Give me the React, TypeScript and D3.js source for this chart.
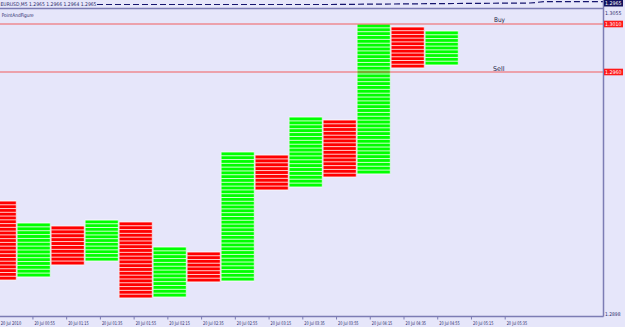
import React from 'react';
import * as d3 from 'd3';

const W = 625;
const H = 327;

// Point & Figure columns (X = rising/green, O = falling/red)
const colTypes = ['O', 'X', 'O', 'X', 'O', 'X', 'O', 'X', 'O', 'X', 'O', 'X', 'O', 'X'];
const colHigh = [1.28256, 1.28027, 1.27996, 1.28058, 1.28038, 1.27777, 1.27725, 1.28767, 1.28735, 1.29131, 1.29100, 1.30100, 1.30069, 1.30027];
const colLow = [1.27433, 1.27465, 1.27590, 1.27631, 1.27246, 1.27256, 1.27413, 1.27423, 1.28371, 1.28402, 1.28506, 1.28538, 1.29642, 1.29673];

const timeLabels = [
  '20 Jul 2010', '20 Jul 00:55', '20 Jul 01:15', '20 Jul 01:35', '20 Jul 01:55', '20 Jul 02:15',
  '20 Jul 02:35', '20 Jul 02:55', '20 Jul 03:15', '20 Jul 03:35', '20 Jul 03:55', '20 Jul 04:15',
  '20 Jul 04:35', '20 Jul 04:55', '20 Jul 05:15', '20 Jul 05:35',
];

const buyLevel = 1.3010;
const sellLevel = 1.2960;
const buyLabel = '1.3010';
const sellLabel = '1.2960';
const currentPriceLabel = '1.2965';
const topScaleLabel = '1.3055';
const bottomScaleLabel = '1.2898';
const headerText = 'EURUSD,M5  1.2965 1.2966 1.2964 1.2965';
const indicatorName = 'PointAndFigure';

const BG = '#e6e6fa';
const AXIS = '#7c7cb4';
const TEXT = '#2a2a6a';
const FONT = '"DejaVu Sans", Verdana, sans-serif';

export default function App() {
  const plotRight = 603;
  const plotBottom = 316;

  const y = d3.scaleLinear().domain([sellLevel, buyLevel]).range([72, 24]);
  const x = d3.scaleLinear().domain([0, colTypes.length]).range([-17.3, -17.3 + 34 * colTypes.length]);
  const tx = d3.scaleLinear().domain([0, timeLabels.length - 1]).range([-0.8, 505.2]);

  const headerLine = d3.line()([
    [97, 4.5], [330, 4.5], [440, 3.6], [530, 3], [545, 1.6], [plotRight, 1.6],
  ] as [number, number][]);

  return (
    <svg width={W} height={H} style={{ position: 'absolute', left: 0, top: 0, display: 'block' }}
      viewBox={`0 0 ${W} ${H}`}>
      <rect x={0} y={0} width={W} height={H} fill={BG} />

      {/* main window header */}
      <path d={headerLine ?? ''} fill="none" stroke="#15156e" strokeWidth={1.2} strokeDasharray="6 3" />
      <text x={0.5} y={6} fontSize={5} fontFamily={FONT} fill={TEXT} textLength={96} lengthAdjust="spacingAndGlyphs">{headerText}</text>
      <line x1={0} x2={plotRight} y1={8.5} y2={8.5} stroke={AXIS} strokeWidth={1.5} />

      {/* indicator window */}
      <text x={1.7} y={17} fontSize={5} fontFamily={FONT} fill={TEXT} textLength={32} lengthAdjust="spacingAndGlyphs">{indicatorName}</text>

      {/* P&F columns */}
      {colTypes.map((t, i) => {
        const x0 = x(i) + 0.5;
        const x1 = x(i + 1) - 0.5;
        const y0 = y(colHigh[i]);
        const y1 = y(colLow[i]);
        const n = Math.max(1, Math.round((y1 - y0) / 3.85));
        const step = (y1 - y0) / n;
        const fill = t === 'X' ? '#00ff00' : '#ff0000';
        return (
          <g key={i}>
            <rect x={x0} y={y0} width={x1 - x0} height={y1 - y0} fill={fill} />
            {d3.range(n + 1).map((k) => (
              <line key={k} x1={x0} x2={x1} y1={y0 + k * step} y2={y0 + k * step}
                stroke="#ffffff" strokeOpacity={0.8} strokeWidth={1} />
            ))}
            <line x1={x0} x2={x0} y1={y0} y2={y1} stroke="#ffffff" strokeOpacity={0.5} strokeWidth={1} />
            <line x1={x1} x2={x1} y1={y0} y2={y1} stroke="#ffffff" strokeOpacity={0.5} strokeWidth={1} />
          </g>
        );
      })}

      {/* buy / sell lines */}
      <line x1={0} x2={plotRight} y1={y(buyLevel)} y2={y(buyLevel)} stroke="#f25c5c" strokeWidth={1.2} />
      <line x1={0} x2={plotRight} y1={y(sellLevel)} y2={y(sellLevel)} stroke="#f25c5c" strokeWidth={1.2} />
      <text x={494} y={y(buyLevel) - 2.5} fontSize={6.5} fontFamily={FONT} fill="#222244" textLength={11} lengthAdjust="spacingAndGlyphs">Buy</text>
      <text x={493} y={y(sellLevel) - 1.5} fontSize={6.5} fontFamily={FONT} fill="#222244" textLength={11.5} lengthAdjust="spacingAndGlyphs">Sell</text>

      {/* axes */}
      <line x1={plotRight + 0.5} x2={plotRight + 0.5} y1={0} y2={plotBottom + 0.5} stroke={AXIS} strokeWidth={1.5} />
      <line x1={0} x2={plotRight + 0.5} y1={plotBottom + 0.5} y2={plotBottom + 0.5} stroke={AXIS} strokeWidth={1.5} />

      {timeLabels.map((lab, i) => (
        <g key={lab}>
          <line x1={tx(i)} x2={tx(i)} y1={plotBottom + 1} y2={plotBottom + 3.5} stroke={AXIS} strokeWidth={1} />
          <text x={tx(i) + 1.5} y={325} fontSize={5} fontFamily={FONT} fill={TEXT} textLength={20.5} lengthAdjust="spacingAndGlyphs">{lab}</text>
        </g>
      ))}

      {/* right price labels */}
      <rect x={604} y={0} width={19} height={6.5} fill="#12125e" />
      <text x={605} y={5.3} fontSize={5} fontFamily={FONT} fill="#ffffff" textLength={16.5} lengthAdjust="spacingAndGlyphs">{currentPriceLabel}</text>
      <text x={605} y={14.5} fontSize={5} fontFamily={FONT} fill={TEXT} textLength={16.5} lengthAdjust="spacingAndGlyphs">{topScaleLabel}</text>

      <rect x={604} y={y(buyLevel) - 3.3} width={19} height={6.6} fill="#ff1a1a" />
      <text x={605} y={y(buyLevel) + 2} fontSize={5} fontFamily={FONT} fill="#ffffff" textLength={16.5} lengthAdjust="spacingAndGlyphs">{buyLabel}</text>
      <rect x={604} y={y(sellLevel) - 3.3} width={19} height={6.6} fill="#ff1a1a" />
      <text x={605} y={y(sellLevel) + 2} fontSize={5} fontFamily={FONT} fill="#ffffff" textLength={16.5} lengthAdjust="spacingAndGlyphs">{sellLabel}</text>

      <text x={605} y={316} fontSize={5} fontFamily={FONT} fill={TEXT} textLength={15.5} lengthAdjust="spacingAndGlyphs">{bottomScaleLabel}</text>
    </svg>
  );
}
